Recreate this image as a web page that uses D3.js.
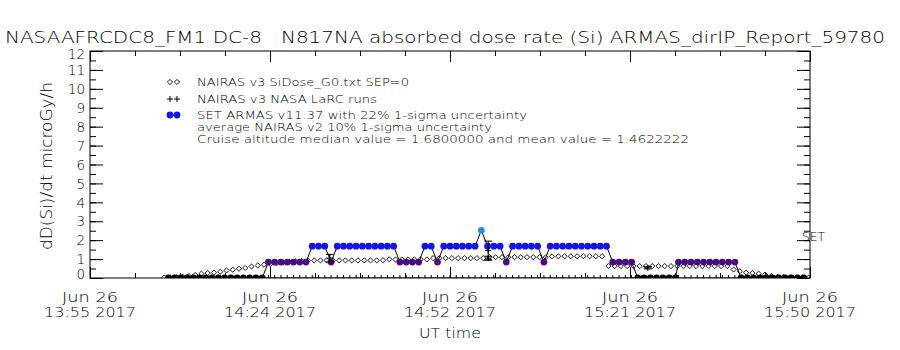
<!DOCTYPE html>
<html>
<head>
<meta charset="utf-8">
<script src="https://cdn.jsdelivr.net/npm/d3@7"></script>
<style>
body { margin: 0; background: #fff; }
text { font-family: "DejaVu Sans", sans-serif; font-weight: 200; fill: #000; white-space: pre; }
</style>
</head>
<body>
<script>
//Plot box, in pixels
var W = 900;
var H = 350;
var Left = 90, Right = 810, Top = 51, Bottom = 278;

//Time is in minutes after 13:55 UT on Jun 26 2017
var xTickMin = [0, 28.75, 57.5, 86.25, 115];
var xTickDate = ["Jun 26", "Jun 26", "Jun 26", "Jun 26", "Jun 26"];
var xTickTime = ["13:55 2017", "14:24 2017", "14:52 2017", "15:21 2017", "15:50 2017"];
var yTicks = [0, 1, 2, 3, 4, 5, 6, 7, 8, 9, 10, 11, 12];

//NAIRAS v3 SiDose_G0.txt SEP=0 (diamonds)
var nairasMin = [11.8, 12.8, 13.8, 14.8, 15.8, 16.8, 17.8, 18.8, 19.8, 20.8,
  21.8, 22.8, 23.8, 24.8, 25.8, 26.8, 27.8, 28.8, 29.8, 30.8,
  31.8, 32.8, 33.8, 34.8, 35.8, 36.8, 37.8, 38.8, 39.8, 40.8,
  41.8, 42.8, 43.8, 44.8, 45.8, 46.8, 47.8, 48.8, 49.8, 50.8,
  51.8, 52.8, 53.8, 54.8, 55.8, 56.8, 57.8, 58.8, 59.8, 60.8,
  61.8, 62.8, 63.8, 64.8, 65.8, 66.8, 67.8, 68.8, 69.8, 70.8,
  71.8, 72.8, 73.8, 74.8, 75.8, 76.8, 77.8, 78.8, 79.8, 80.8,
  81.8, 82.8, 83.8, 84.8, 85.8, 86.8, 87.8, 88.8, 89.8, 90.8,
  91.8, 92.8, 93.8, 94.8, 95.8, 96.8, 97.8, 98.8, 99.8, 100.8,
  101.8, 102.8, 103.8, 104.8, 105.8, 106.8, 107.8, 108.8, 109.8, 110.8,
  111.8, 112.8, 113.8, 114.8];
var nairasDose = [0.02, 0.03, 0.04, 0.06, 0.1, 0.16, 0.23, 0.26, 0.28, 0.33,
  0.4, 0.44, 0.49, 0.53, 0.61, 0.66, 0.7, 0.74, 0.78, 0.82,
  0.86, 0.88, 0.9, 0.92, 0.93, 0.93, 0.93, 0.93, 0.93, 0.93,
  0.93, 0.93, 0.93, 0.93, 0.93, 0.94, 0.99, 0.98, 0.98, 0.98,
  0.98, 0.98, 0.98, 1.05, 1.05, 1.05, 1.05, 1.05, 1.05, 1.05,
  1.05, 1.05, 1.1, 1.1, 1.1, 1.1, 1.1, 1.1, 1.1, 1.1,
  1.1, 1.1, 1.15, 1.15, 1.15, 1.15, 1.15, 1.15, 1.15, 1.15,
  1.15, 0.63, 0.63, 0.63, 0.63, 0.63, 0.63, 0.63, 0.63, 0.63,
  0.63, 0.63, 0.63, 0.63, 0.63, 0.63, 0.63, 0.63, 0.63, 0.63,
  0.63, 0.45, 0.36, 0.28, 0.26, 0.23, 0.18, 0.1, 0.06, 0.05,
  0.04, 0.03, 0.03, 0.02];

//NAIRAS v3 NASA LaRC runs, with average NAIRAS v2 uncertainty
var larcMin = [38.3, 63.6, 63.6, 89.1];
var larcDose = [1.05, 1.45, 1.05, 0.54];
var larcErr = [0.2, 0.5, 0.1, 0.06];

//SET ARMAS v11.37 absorbed dose rate
var armasMin = [12.5, 13.5, 14.5, 15.5, 16.5, 17.5, 18.5, 19.5, 20.5, 21.5,
  22.5, 23.5, 24.5, 25.5, 26.5, 27.5, 28.5, 29.5, 30.5, 31.5,
  32.5, 33.5, 34.5, 35.5, 36.5, 37.5, 38.5, 39.5, 40.5, 41.5,
  42.5, 43.5, 44.5, 45.5, 46.5, 47.5, 48.5, 49.5, 50.5, 51.5,
  52.5, 53.5, 54.5, 55.5, 56.5, 57.5, 58.5, 59.5, 60.5, 61.5,
  62.5, 63.5, 64.5, 65.5, 66.5, 67.5, 68.5, 69.5, 70.5, 71.5,
  72.5, 73.5, 74.5, 75.5, 76.5, 77.5, 78.5, 79.5, 80.5, 81.5,
  82.5, 83.5, 84.5, 85.5, 86.5, 87.5, 88.5, 89.5, 90.5, 91.5,
  92.5, 93.5, 94, 95, 96, 97, 98, 99, 100, 101,
  102, 103, 104, 105, 106, 107, 108, 109, 110, 111,
  112, 113, 114];
var armasDose = [0, 0, 0, 0, 0, 0, 0, 0, 0, 0,
  0, 0, 0, 0, 0, 0, 0.84, 0.84, 0.84, 0.84,
  0.84, 0.84, 0.84, 1.68, 1.68, 1.68, 0.84, 1.68, 1.68, 1.68,
  1.68, 1.68, 1.68, 1.68, 1.68, 1.68, 1.68, 0.84, 0.84, 0.84,
  0.84, 1.68, 1.68, 0.84, 1.68, 1.68, 1.68, 1.68, 1.68, 1.68,
  2.52, 1.68, 1.68, 1.68, 0.84, 1.68, 1.68, 1.68, 1.68, 1.68,
  0.84, 1.68, 1.68, 1.68, 1.68, 1.68, 1.68, 1.68, 1.68, 1.68,
  1.68, 0.84, 0.84, 0.84, 0.84, 0, 0, 0, 0, 0,
  0, 0, 0.84, 0.84, 0.84, 0.84, 0.84, 0.84, 0.84, 0.84,
  0.84, 0.84, 0, 0, 0, 0, 0, 0, 0, 0,
  0, 0, 0];
var doseLevels = [0, 0.84, 1.68, 2.52];
var doseColors = ["#000000", "#4b0a82", "#1414e6", "#2b8cf0"];

var titleText = "NASAAFRCDC8_FM1 DC-8   N817NA absorbed dose rate (Si) ARMAS_dirIP_Report_59780";
var legendLabels = ["NAIRAS v3 SiDose_G0.txt SEP=0", "NAIRAS v3 NASA LaRC runs",
  "SET ARMAS v11.37 with 22% 1-sigma uncertainty",
  "average NAIRAS v2 10% 1-sigma uncertainty",
  "Cruise altitude median value = 1.6800000 and mean value = 1.4622222"];

function fit(sel, len) {
  //Stretches a text to the width it has in the reference
  return sel.attr("textLength", len).attr("lengthAdjust", "spacingAndGlyphs");
}

function diamond(g, cx, cy, r) {
  g.append("path")
    .attr("d", "M" + (cx - r) + "," + cy + "L" + cx + "," + (cy - r) +
      "L" + (cx + r) + "," + cy + "L" + cx + "," + (cy + r) + "Z")
    .attr("fill", "none").attr("stroke", "#000").attr("stroke-width", 0.9);
}

function plus(g, cx, cy, r) {
  g.append("path")
    .attr("d", "M" + (cx - r) + "," + cy + "H" + (cx + r) + "M" + cx + "," + (cy - r) + "V" + (cy + r))
    .attr("stroke", "#000").attr("stroke-width", 1).attr("fill", "none");
}

function main() {
  var svg = d3.select("body").append("svg")
    .attr("width", W).attr("height", H);
  svg.append("rect").attr("width", W).attr("height", H).attr("fill", "#fff");

  var x = d3.scaleLinear().domain([0, 115]).range([Left, Right]);
  var y = d3.scaleLinear().domain([0, 12]).range([Bottom, Top]);
  var color = d3.scaleOrdinal().domain(doseLevels).range(doseColors);

  //Title
  fit(svg.append("text").attr("x", 5).attr("y", 43)
    .attr("xml:space", "preserve")
    .style("font-size", "16px").text(titleText), 880);

  //Axes: ticks point into the plot on all four sides
  var xMinor = d3.range(0, 115.01, 28.75 / 4);
  var yMinor = d3.range(0, 12.01, 0.5);
  svg.append("g").attr("transform", "translate(0," + Bottom + ")")
    .call(d3.axisBottom(x).tickValues(xMinor).tickSize(-5).tickFormat(""));
  svg.append("g").attr("transform", "translate(0," + Bottom + ")")
    .call(d3.axisBottom(x).tickValues(xTickMin).tickSize(-11).tickFormat(""));
  svg.append("g").attr("transform", "translate(0," + Top + ")")
    .call(d3.axisTop(x).tickValues(xMinor).tickSize(-5).tickFormat(""));
  svg.append("g").attr("transform", "translate(0," + Top + ")")
    .call(d3.axisTop(x).tickValues(xTickMin).tickSize(-11).tickFormat(""));
  svg.append("g").attr("transform", "translate(" + Left + ",0)")
    .call(d3.axisLeft(y).tickValues(yMinor).tickSize(-6).tickFormat(""));
  var yAxis = svg.append("g").attr("class", "y axis")
    .attr("transform", "translate(" + Left + ",0)")
    .call(d3.axisLeft(y).tickValues(yTicks).tickSize(-13).tickPadding(5));
  svg.append("g").attr("transform", "translate(" + Right + ",0)")
    .call(d3.axisRight(y).tickValues(yMinor).tickSize(-6).tickFormat(""));
  svg.append("g").attr("transform", "translate(" + Right + ",0)")
    .call(d3.axisRight(y).tickValues(yTicks).tickSize(-13).tickFormat(""));
  svg.selectAll(".domain").remove();
  svg.selectAll(".tick line").attr("stroke", "#000").attr("stroke-width", 1);

  yAxis.selectAll("text")
    .attr("fill", "#000")
    .style("font-family", "'DejaVu Sans', sans-serif")
    .style("font-weight", 200)
    .style("font-size", "13.5px")
    .attr("dy", "0.35em")
    .attr("y", function(d) { return Math.max(54, Math.min(274, y(d))) - y(d); });

  svg.append("rect")
    .attr("x", Left).attr("y", Top)
    .attr("width", Right - Left).attr("height", Bottom - Top)
    .attr("fill", "none").attr("stroke", "#000").attr("stroke-width", 1);

  //Two-line time labels under the bottom axis
  var xl = svg.append("g");
  xTickMin.forEach(function(m, i) {
    fit(xl.append("text").attr("x", x(m)).attr("y", 302)
      .attr("text-anchor", "middle").style("font-size", "14px")
      .text(xTickDate[i]), 56);
    fit(xl.append("text").attr("x", x(m)).attr("y", 317)
      .attr("text-anchor", "middle").style("font-size", "14px")
      .text(xTickTime[i]), 92);
  });
  fit(svg.append("text").attr("x", 450).attr("y", 338)
    .attr("text-anchor", "middle").style("font-size", "14px")
    .text("UT time"), 62);

  fit(svg.append("text")
    .attr("transform", "translate(52,166) rotate(-90)")
    .attr("text-anchor", "middle").style("font-size", "15px")
    .text("dD(Si)/dt microGy/h"), 168);

  //Data, clipped to the plot box
  svg.append("clipPath").attr("id", "box").append("rect")
    .attr("x", Left).attr("y", Top)
    .attr("width", Right - Left).attr("height", Bottom - Top);
  var plot = svg.append("g").attr("clip-path", "url(#box)");

  var gd = plot.append("g");
  nairasMin.forEach(function(m, i) { diamond(gd, x(m), y(nairasDose[i]), 2.6); });

  //LaRC runs sit at zero along the flight track
  var gz = plot.append("g");
  armasMin.forEach(function(m) { plus(gz, x(m), y(0), 3); });

  var armas = armasMin.map(function(m, i) { return [m, armasDose[i]]; });
  plot.append("path")
    .datum(armas)
    .attr("d", d3.line().x(function(d) { return x(d[0]); }).y(function(d) { return y(d[1]); }))
    .attr("fill", "none").attr("stroke", "#000").attr("stroke-width", 1);
  plot.selectAll("circle.armas")
    .data(armas)
    .enter()
    .append("circle")
    .attr("class", "armas")
    .attr("cx", function(d) { return x(d[0]); })
    .attr("cy", function(d) { return y(d[1]); })
    .attr("r", 3.4)
    .attr("fill", function(d) { return color(d[1]); });

  //Error bars drawn over the ARMAS points
  var gl = plot.append("g");
  larcMin.forEach(function(m, i) {
    var cx = x(m);
    var lo = y(larcDose[i] - larcErr[i]);
    var hi = y(larcDose[i] + larcErr[i]);
    gl.append("path")
      .attr("d", "M" + cx + "," + lo + "V" + hi +
        "M" + (cx - 4) + "," + lo + "H" + (cx + 4) +
        "M" + (cx - 4) + "," + hi + "H" + (cx + 4))
      .attr("stroke", "#000").attr("fill", "none");
    plus(gl, cx, y(larcDose[i]), 3);
  });

  //Legend
  var lg = svg.append("g");
  var legY = [82, 99, 115, 127, 139];
  var legW = [212, 180, 330, 295, 492];
  var legF = [10.5, 10.5, 10.5, 10, 10];
  diamond(lg, 170, legY[0], 2.6);
  diamond(lg, 177, legY[0], 2.6);
  plus(lg, 170, legY[1], 3);
  plus(lg, 177, legY[1], 3);
  lg.append("path").attr("d", "M170," + legY[2] + "H177").attr("stroke", "#000");
  lg.append("circle").attr("cx", 170).attr("cy", legY[2]).attr("r", 3.4).attr("fill", doseColors[2]);
  lg.append("circle").attr("cx", 177).attr("cy", legY[2]).attr("r", 3.4).attr("fill", doseColors[2]);
  legendLabels.forEach(function(t, i) {
    fit(lg.append("text").attr("x", 197).attr("y", legY[i] + 4)
      .style("font-size", legF[i] + "px").text(t), legW[i]);
  });

  fit(svg.append("text").attr("x", 802).attr("y", 241)
    .style("font-size", "12px").text("SET"), 23);
}

main();
</script>
</body>
</html>
